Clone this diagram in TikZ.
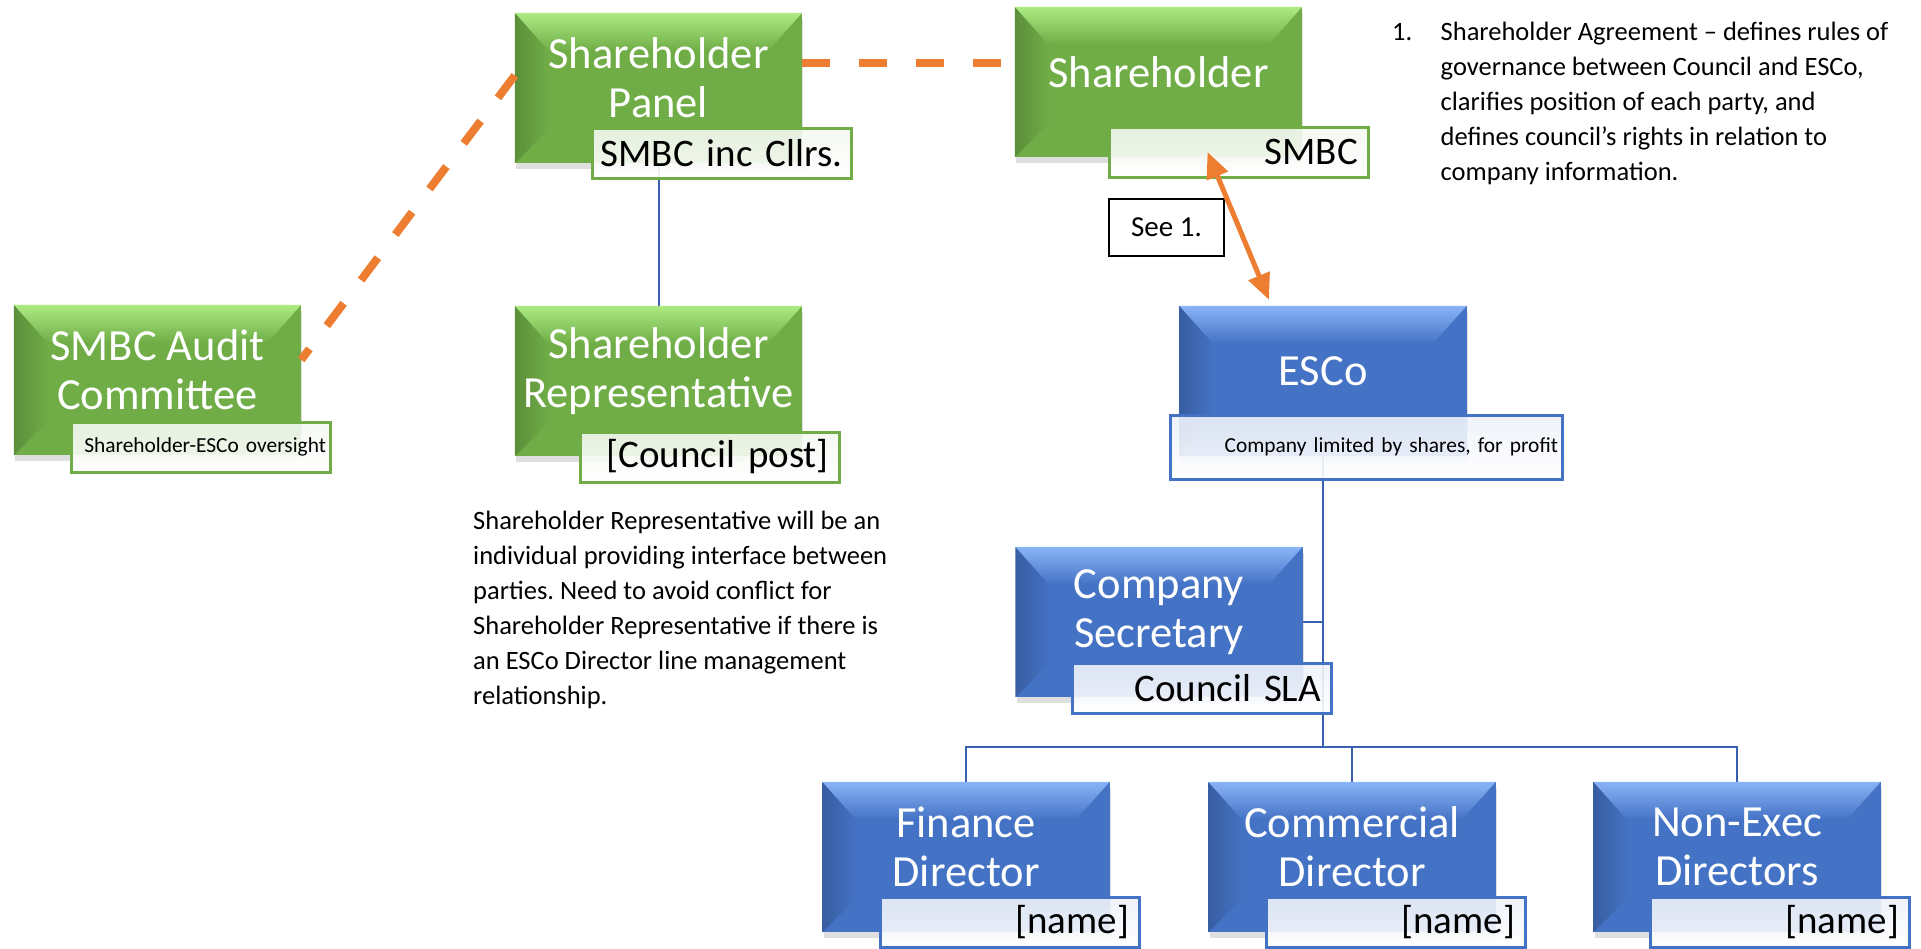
\documentclass[tikz,border=0pt]{standalone}
\usepackage{fontspec}
\setmainfont{Carlito}
\usepackage{xcolor}
\usepackage{tikz}
\usetikzlibrary{calc,positioning,arrows.meta,shadows,backgrounds}
\definecolor{sgreen}{HTML}{70AD47}
\definecolor{sgreenlt}{HTML}{ACEA82}
\definecolor{sblue}{HTML}{4472C4}
\definecolor{sbluelt}{HTML}{8AB4F8}
\definecolor{sorange}{HTML}{ED7D31}
\definecolor{slink}{HTML}{3A5FAD}

\begin{document}
\begin{tikzpicture}[x=1pt,y=-1pt,
  box/.style={rectangle,minimum width=287pt,minimum height=150pt,inner sep=0pt,
    drop shadow={shadow xshift=1pt,shadow yshift=-6pt,opacity=.25}},
  gbox/.style={box,fill=sgreen},
  bbox/.style={box,fill=sblue},
  boxtext/.style={text=white,align=center,font=\fontsize{44.5pt}{49pt}\selectfont},
  tag/.style={rectangle,minimum height=50pt,text width=239pt,inner xsep=10pt,inner ysep=0pt,
    align=right,line width=3pt,fill opacity=.9,text opacity=1,
    font=\fontsize{39pt}{43pt}\selectfont},
  gtag/.style={tag,draw=sgreen,top color=sgreen!8!white,bottom color=white},
  btag/.style={tag,draw=sblue,top color=sblue!10!white,bottom color=white},
  smalltag/.style={inner xsep=4pt,font=\fontsize{21.4pt}{25pt}\selectfont},
  note/.style={align=left,inner sep=0pt,font=\fontsize{26.5pt}{35pt}\selectfont\frenchspacing},
  orgline/.style={draw=slink,line width=2.5pt},
  dashlink/.style={draw=sorange,line width=8pt,dash pattern=on 28pt off 29pt},
  agree/.style={draw=sorange,line width=5pt,
    {Triangle[length=26pt,width=22pt]}-{Triangle[length=26pt,width=22pt]}}]
  \useasboundingbox (0,0) rectangle (1921,948);
  % 绿色方框：股东一侧
  \node[gbox] (panel) at (658.5,88) {};
  \node[gbox] (holder) at (1158.5,82) {};
  \node[gbox] (audit) at (157.5,380) {};
  \node[gbox] (rep) at (658.5,381) {};
  % 蓝色方框：ESCo 一侧
  \node[bbox] (esco) at (1323,381) {};
  \node[bbox] (secr) at (1159,622) {};
  \node[bbox] (fin) at (966,857) {};
  \node[bbox] (comm) at (1352,857) {};
  \node[bbox] (nonexec) at (1737,857) {};
  % 方框边缘的斜面
  \foreach \b/\c in {panel/sgreen,holder/sgreen,audit/sgreen,rep/sgreen,
      esco/sblue,secr/sblue,fin/sblue,comm/sblue,nonexec/sblue}{
    \shade[left color=\c!82!black,right color=\c] (\b.north west)
      -- ($(\b.north west)+(34,38)$) -- ($(\b.south west)+(34,-34)$) -- (\b.south west) -- cycle;
    \shade[top color=\c lt,bottom color=\c] (\b.north west) -- (\b.north east)
      -- ($(\b.north east)+(-34,38)$) -- ($(\b.north west)+(34,38)$) -- cycle;
  }
  \node[boxtext] (panelT) at ($(panel)+(0,-10)$) {Shareholder\\Panel};
  \node[boxtext] (holderT) at ($(holder)+(0,-10)$) {Shareholder};
  \node[boxtext] (auditT) at ($(audit)+(0,-10)$) {SMBC Audit\\Committee};
  \node[boxtext] (repT) at ($(rep)+(0,-10)$) {Shareholder\\Representative};
  \node[boxtext] (escoT) at ($(esco)+(0,-10)$) {ESCo};
  \node[boxtext] (secrT) at ($(secr)+(0,-10)$) {Company\\Secretary};
  \node[boxtext] (finT) at ($(fin)+(0,-10)$) {Finance\\Director};
  \node[boxtext] (commT) at ($(comm)+(0,-10)$) {Commercial\\Director};
  \node[boxtext] (nonexecT) at ($(nonexec)+(0,-10)$) {Non-Exec\\Directors};
  % 右下角的小标签
  \node[gtag,align=center,text width=251pt,inner xsep=4pt] (paneltag) at (721.5,153.5)
    {SMBC inc Cllrs.};
  \node[gtag] (holdertag) at (1238.5,152) {SMBC};
  \node[gtag,smalltag,text width=251pt] (audittag) at (200.5,447) {Shareholder-ESCo oversight};
  \node[gtag] (reptag) at (709.5,457) {[Council post]};
  \node[btag,smalltag,text width=384pt,minimum height=64pt] (escotag) at (1366,447)
    {Company limited by shares, for profit};
  \node[btag] (secrtag) at (1201.5,688) {Council SLA};
  \node[btag] (fintag) at (1009.5,922) {[name]};
  \node[btag] (commtag) at (1395.5,922) {[name]};
  \node[btag] (nonexectag) at (1779.5,922) {[name]};
  \coordinate (bar) at ($(comm.north)+(0,-35)$);
  \begin{scope}[on background layer]
    \draw[orgline,line width=2pt] (panel.south) -- (rep.north);
    \draw[orgline] (esco.south) -- (esco.south |- bar);
    \draw[orgline] (secr.east) -- (secr.east -| esco.south);
    \draw[orgline] (fin.north) -- (fin.north |- bar) -- (nonexec.north |- bar) -- (nonexec.north);
    \draw[orgline] (comm.north) -- (bar);
  \end{scope}
  \draw[dashlink] (panel.10) -- (panel.10 -| holder.west);
  \draw[dashlink] (panel.175) -- (audit.8);
  \node[draw,line width=1.5pt,fill=white,minimum width=115pt,minimum height=57pt,
    font=\fontsize{29pt}{33pt}\selectfont] (see) at (1166.5,227.5) {See 1.};
  \draw[agree] ($(holdertag.center)+(-31,0)$) -- ($(esco.north)+(-54,-6)$);
  % 两段说明文字
  \node[note,anchor=north west] (repnote) at (473,511)
    {Shareholder Representative will be an\\individual providing interface between\\
     parties. Need to avoid conflict for\\Shareholder Representative if there is\\
     an ESCo Director line management\\relationship.};
  \node[note,anchor=north west] (agreenote) at (1392,22)
    {\makebox[48.5pt][l]{1.}Shareholder Agreement – defines rules of\\
     \hspace*{48.5pt}governance between Council and ESCo,\\
     \hspace*{48.5pt}clarifies position of each party, and\\
     \hspace*{48.5pt}defines council’s rights in relation to\\
     \hspace*{48.5pt}company information.};
\end{tikzpicture}
\end{document}
